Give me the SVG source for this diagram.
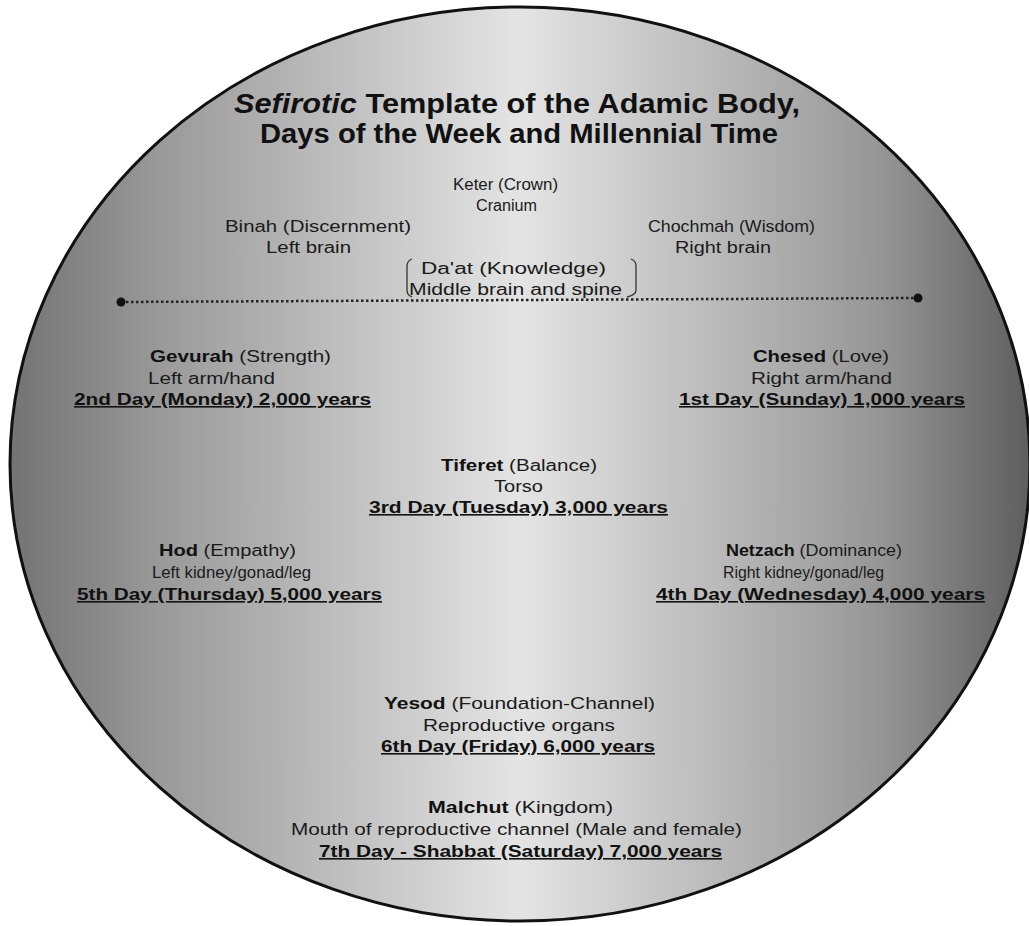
<svg xmlns="http://www.w3.org/2000/svg" width="1029" height="926" viewBox="0 0 1029 926">
<defs>
<linearGradient id="bg" x1="0" y1="0" x2="1" y2="0">
<stop offset="0" stop-color="#737373"/>
<stop offset="0.15" stop-color="#9a9a9a"/>
<stop offset="0.5" stop-color="#e4e4e4"/>
<stop offset="0.85" stop-color="#979797"/>
<stop offset="1" stop-color="#5e5e5e"/>
</linearGradient>
<style>
.t{font-family:"Liberation Sans",Arial,sans-serif;font-size:16px;fill:#1a1a1a}
.b{font-weight:bold;fill:#111}
.u{font-weight:bold;text-decoration:underline;fill:#111}
.title{font-family:"Liberation Sans",Arial,sans-serif;font-size:28px;font-weight:bold;fill:#111}
.dot{fill:#111}
</style>
</defs>
<rect width="1029" height="926" fill="#ffffff"/>
<ellipse cx="520" cy="464" rx="510" ry="457" fill="url(#bg)" stroke="#111" stroke-width="3"/>

<g id="title">
<text class="title" x="234" y="113" textLength="566" lengthAdjust="spacingAndGlyphs"><tspan font-style="italic">Sefirotic</tspan> Template of the Adamic Body,</text>
<text class="title" x="260" y="143" textLength="518" lengthAdjust="spacingAndGlyphs">Days of the Week and Millennial Time</text>
</g>

<g id="connectors">
<line x1="121" y1="302" x2="918" y2="298" stroke="#222" stroke-width="2.5" stroke-dasharray="2.5 2.5"/>
<circle class="dot" cx="121" cy="302" r="4.5"/>
<circle class="dot" cx="918" cy="298" r="4.5"/>
</g>

<g id="keter">
<text class="t" x="453" y="190" textLength="105" lengthAdjust="spacingAndGlyphs">Keter (Crown)</text>
<text class="t" x="476" y="211" textLength="61" lengthAdjust="spacingAndGlyphs">Cranium</text>
</g>

<g id="binah">
<text class="t" x="225" y="232" textLength="186" lengthAdjust="spacingAndGlyphs">Binah (Discernment)</text>
<text class="t" x="266" y="253" textLength="85" lengthAdjust="spacingAndGlyphs">Left brain</text>
</g>

<g id="chochmah">
<text class="t" x="648" y="232" textLength="167" lengthAdjust="spacingAndGlyphs">Chochmah (Wisdom)</text>
<text class="t" x="675" y="253" textLength="96" lengthAdjust="spacingAndGlyphs">Right brain</text>
</g>

<g id="daat">
<path d="M412 259 Q407 261 407 266 L407 290 Q407 295 412 297" fill="none" stroke="#333" stroke-width="1.3"/>
<path d="M631 259 Q636 261 636 266 L636 290 Q636 295 627 297" fill="none" stroke="#333" stroke-width="1.3"/>
<text class="t" x="421" y="274" textLength="185" lengthAdjust="spacingAndGlyphs">Da'at (Knowledge)</text>
<text class="t" x="409" y="295" textLength="213" lengthAdjust="spacingAndGlyphs">Middle brain and spine</text>
</g>

<g id="gevurah">
<text class="t" x="150" y="362" textLength="181" lengthAdjust="spacingAndGlyphs"><tspan class="b">Gevurah</tspan> (Strength)</text>
<text class="t" x="148" y="384" textLength="127" lengthAdjust="spacingAndGlyphs">Left arm/hand</text>
<text class="t u" x="74" y="405" textLength="297" lengthAdjust="spacingAndGlyphs">2nd Day (Monday) 2,000 years</text>
</g>

<g id="chesed">
<text class="t" x="753" y="362" textLength="136" lengthAdjust="spacingAndGlyphs"><tspan class="b">Chesed</tspan> (Love)</text>
<text class="t" x="751" y="384" textLength="141" lengthAdjust="spacingAndGlyphs">Right arm/hand</text>
<text class="t u" x="679" y="405" textLength="286" lengthAdjust="spacingAndGlyphs">1st Day (Sunday) 1,000 years</text>
</g>

<g id="tiferet">
<text class="t" x="441" y="471" textLength="156" lengthAdjust="spacingAndGlyphs"><tspan class="b">Tiferet</tspan> (Balance)</text>
<text class="t" x="494" y="492" textLength="49" lengthAdjust="spacingAndGlyphs">Torso</text>
<text class="t u" x="369" y="513" textLength="299" lengthAdjust="spacingAndGlyphs">3rd Day (Tuesday) 3,000 years</text>
</g>

<g id="hod">
<text class="t" x="159" y="556" textLength="137" lengthAdjust="spacingAndGlyphs"><tspan class="b">Hod</tspan> (Empathy)</text>
<text class="t" x="152" y="578" textLength="159" lengthAdjust="spacingAndGlyphs">Left kidney/gonad/leg</text>
<text class="t u" x="77" y="600" textLength="305" lengthAdjust="spacingAndGlyphs">5th Day (Thursday) 5,000 years</text>
</g>

<g id="netzach">
<text class="t" x="726" y="556" textLength="176" lengthAdjust="spacingAndGlyphs"><tspan class="b">Netzach</tspan> (Dominance)</text>
<text class="t" x="723" y="578" textLength="161" lengthAdjust="spacingAndGlyphs">Right kidney/gonad/leg</text>
<text class="t u" x="656" y="600" textLength="329" lengthAdjust="spacingAndGlyphs">4th Day (Wednesday) 4,000 years</text>
</g>

<g id="yesod">
<text class="t" x="384" y="709" textLength="271" lengthAdjust="spacingAndGlyphs"><tspan class="b">Yesod</tspan> (Foundation-Channel)</text>
<text class="t" x="423" y="731" textLength="192" lengthAdjust="spacingAndGlyphs">Reproductive organs</text>
<text class="t u" x="381" y="752" textLength="274" lengthAdjust="spacingAndGlyphs">6th Day (Friday) 6,000 years</text>
</g>

<g id="malchut">
<text class="t" x="428" y="813" textLength="185" lengthAdjust="spacingAndGlyphs"><tspan class="b">Malchut</tspan> (Kingdom)</text>
<text class="t" x="291" y="835" textLength="451" lengthAdjust="spacingAndGlyphs">Mouth of reproductive channel (Male and female)</text>
<text class="t u" x="319" y="857" textLength="403" lengthAdjust="spacingAndGlyphs">7th Day - Shabbat (Saturday) 7,000 years</text>
</g>
</svg>
